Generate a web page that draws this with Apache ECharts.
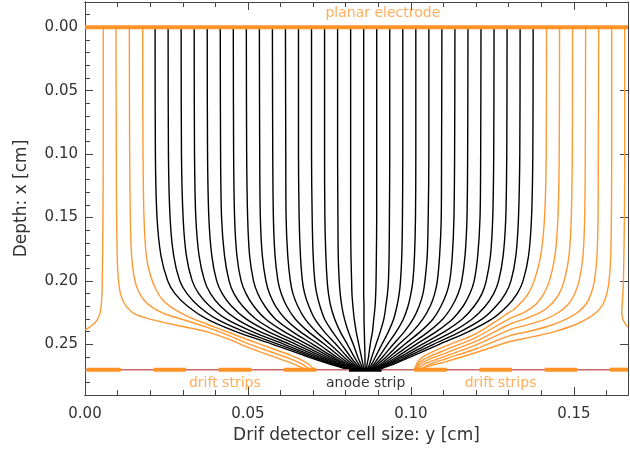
<!DOCTYPE html>
<html><head><meta charset="utf-8">
<script src="https://cdn.jsdelivr.net/npm/echarts@6/dist/echarts.min.js"></script>
<style>html,body{margin:0;padding:0;background:#fff}#c{width:630px;height:452px}</style>
</head><body><div id="c"></div>
<script>
// ---------- axes / ticks ----------
const xRange = [0, 0.1666];
const yRange = [-0.02, 0.29];
const xMajorTicks = [0, 0.05, 0.10, 0.15];
const xMinorTicks = [0.01,0.02,0.03,0.04,0.06,0.07,0.08,0.09,0.11,0.12,0.13,0.14,0.16];
const yMajorTicks = [0, 0.05, 0.10, 0.15, 0.20, 0.25];
const yMinorTicks = [-0.01,0.01,0.02,0.03,0.04,0.06,0.07,0.08,0.09,0.11,0.12,0.13,0.14,0.16,0.17,0.18,0.19,0.21,0.22,0.23,0.24,0.26,0.27,0.28];
const xTitle = 'Drif detector cell size: y [cm]';
const yTitle = 'Depth: x [cm]';

// ---------- electrodes ----------
const electrodeDepth = 0;
const stripDepth = 0.27;
const driftStrips = [[0.0005,0.011],[0.021,0.031],[0.041,0.051],[0.061,0.071],[0.101,0.111],[0.121,0.131],[0.141,0.151],[0.161,0.1666]];
const anodeStrip = [0.081, 0.091];

// ---------- annotations ----------
const labelTexts = ['planar electrode', 'drift strips', 'anode strip', 'drift strips'];
const labelAnchors = [[0.0914,-0.0108],[0.0429,0.2807],[0.0861,0.2807],[0.1275,0.2807]];
const labelKinds = ['orange','orange','black','orange'];

// ---------- field lines ending on the anode (x at each depth) ----------
const anodeLineDepths = [0, 0.10, 0.15, 0.18, 0.20, 0.21, 0.22, 0.23, 0.24, 0.25, 0.26, 0.265, 0.27];
const anodeLinesX = [
 [0.0215,0.0216,0.0221,0.0233,0.0254,0.0276,0.0315,0.0373,0.0463,0.0576,0.0686,0.0744,0.0808],
 [0.0255,0.0256,0.0261,0.0272,0.0291,0.0313,0.0349,0.0403,0.0488,0.0594,0.0697,0.0751,0.0812],
 [0.0295,0.0296,0.0301,0.0311,0.0329,0.0349,0.0383,0.0433,0.0513,0.0611,0.0707,0.0758,0.0815],
 [0.0335,0.0336,0.0340,0.0350,0.0367,0.0385,0.0416,0.0464,0.0537,0.0629,0.0718,0.0766,0.0818],
 [0.0375,0.0376,0.0380,0.0389,0.0404,0.0421,0.0450,0.0494,0.0562,0.0647,0.0729,0.0773,0.0821],
 [0.0415,0.0416,0.0419,0.0428,0.0442,0.0457,0.0484,0.0524,0.0586,0.0664,0.0740,0.0780,0.0824],
 [0.0455,0.0456,0.0459,0.0466,0.0479,0.0494,0.0518,0.0554,0.0611,0.0682,0.0751,0.0787,0.0828],
 [0.0495,0.0496,0.0499,0.0505,0.0517,0.0530,0.0552,0.0584,0.0636,0.0699,0.0761,0.0794,0.0831],
 [0.0535,0.0536,0.0538,0.0544,0.0555,0.0566,0.0585,0.0615,0.0660,0.0717,0.0772,0.0802,0.0834],
 [0.0575,0.0576,0.0578,0.0583,0.0592,0.0602,0.0619,0.0645,0.0685,0.0735,0.0783,0.0809,0.0837],
 [0.0615,0.0616,0.0617,0.0622,0.0630,0.0638,0.0653,0.0675,0.0709,0.0752,0.0794,0.0816,0.0840],
 [0.0655,0.0655,0.0657,0.0661,0.0667,0.0674,0.0687,0.0705,0.0734,0.0770,0.0805,0.0823,0.0844],
 [0.0695,0.0695,0.0697,0.0700,0.0705,0.0711,0.0721,0.0735,0.0759,0.0787,0.0815,0.0830,0.0847],
 [0.0735,0.0735,0.0736,0.0739,0.0743,0.0747,0.0754,0.0766,0.0783,0.0805,0.0826,0.0838,0.0850],
 [0.0775,0.0775,0.0776,0.0777,0.0780,0.0783,0.0788,0.0796,0.0808,0.0823,0.0837,0.0845,0.0853],
 [0.0815,0.0815,0.0815,0.0816,0.0818,0.0819,0.0822,0.0826,0.0832,0.0840,0.0848,0.0852,0.0856],
 [0.0855,0.0855,0.0855,0.0855,0.0855,0.0855,0.0856,0.0856,0.0857,0.0858,0.0859,0.0859,0.0860],
 [0.0895,0.0895,0.0895,0.0894,0.0893,0.0892,0.0890,0.0886,0.0882,0.0875,0.0870,0.0866,0.0863],
 [0.0935,0.0935,0.0934,0.0933,0.0931,0.0928,0.0923,0.0917,0.0906,0.0893,0.0880,0.0874,0.0866],
 [0.0975,0.0975,0.0974,0.0972,0.0968,0.0964,0.0957,0.0947,0.0931,0.0911,0.0891,0.0881,0.0869],
 [0.1015,0.1015,0.1014,0.1011,0.1006,0.1000,0.0991,0.0977,0.0955,0.0928,0.0902,0.0888,0.0872],
 [0.1055,0.1055,0.1053,0.1050,0.1043,0.1037,0.1025,0.1007,0.0980,0.0946,0.0913,0.0895,0.0876],
 [0.1095,0.1094,0.1093,0.1088,0.1081,0.1073,0.1059,0.1037,0.1005,0.0963,0.0924,0.0902,0.0879],
 [0.1135,0.1134,0.1132,0.1127,0.1119,0.1109,0.1092,0.1068,0.1029,0.0981,0.0934,0.0910,0.0882],
 [0.1175,0.1174,0.1172,0.1166,0.1156,0.1145,0.1126,0.1098,0.1054,0.0999,0.0945,0.0917,0.0885],
 [0.1215,0.1214,0.1212,0.1205,0.1194,0.1181,0.1160,0.1128,0.1078,0.1016,0.0956,0.0924,0.0888],
 [0.1255,0.1254,0.1251,0.1244,0.1231,0.1218,0.1194,0.1158,0.1103,0.1034,0.0967,0.0931,0.0892],
 [0.1295,0.1294,0.1291,0.1283,0.1269,0.1254,0.1228,0.1188,0.1128,0.1051,0.0978,0.0938,0.0895],
 [0.1335,0.1334,0.1330,0.1322,0.1307,0.1290,0.1261,0.1219,0.1152,0.1069,0.0988,0.0946,0.0898],
 [0.1375,0.1374,0.1370,0.1361,0.1344,0.1326,0.1295,0.1249,0.1177,0.1087,0.0999,0.0953,0.0901]
];

// ---------- field lines ending on the drift strips / cell edges ([y, x] points) ----------
const leftEdgeLine = [[0.0056,0],[0.0056,0.10],[0.0055,0.15],[0.0053,0.20],[0.0051,0.215],[0.0047,0.2245],[0.0038,0.2305],[0.0022,0.2350],[0.0008,0.2375],[0,0.2387]];
const leftStripLines = [
 [[0.0095,0],[0.0096,0.10],[0.0097,0.15],[0.0100,0.19],[0.0105,0.205],[0.0113,0.2135],[0.0128,0.2205],[0.0155,0.2265],[0.0205,0.2305],[0.0300,0.2360],[0.0373,0.2400],[0.0440,0.2460],[0.0506,0.2530],[0.0576,0.2595],[0.0630,0.2645],[0.0662,0.2680],[0.0680,0.27]],
 [[0.0136,0],[0.0137,0.10],[0.0139,0.15],[0.0143,0.18],[0.0150,0.196],[0.0162,0.207],[0.0182,0.2155],[0.0210,0.2215],[0.0250,0.2265],[0.0320,0.2320],[0.0373,0.2365],[0.0440,0.2430],[0.0506,0.2500],[0.0576,0.2565],[0.0630,0.2615],[0.0665,0.2655],[0.0685,0.2690],[0.0692,0.27]],
 [[0.0177,0],[0.0178,0.10],[0.0181,0.15],[0.0188,0.18],[0.0200,0.195],[0.0218,0.207],[0.0240,0.2155],[0.0275,0.2225],[0.0320,0.2285],[0.0373,0.2340],[0.0440,0.2405],[0.0506,0.2470],[0.0576,0.2535],[0.0630,0.2585],[0.0665,0.2625],[0.0690,0.2665],[0.0702,0.27]]
];
const rightStripLines = [
 [[0.1416,0],[0.1415,0.10],[0.1410,0.15],[0.1398,0.18],[0.1378,0.20],[0.1360,0.21],[0.1340,0.2165],[0.1316,0.2225],[0.1304,0.2245],[0.1200,0.2415],[0.1110,0.2510],[0.1050,0.2580],[0.1025,0.2625],[0.1010,0.27]],
 [[0.1456,0],[0.1455,0.10],[0.1451,0.15],[0.1442,0.18],[0.1425,0.20],[0.1408,0.21],[0.1385,0.218],[0.1350,0.2245],[0.1304,0.2295],[0.1200,0.2445],[0.1110,0.2540],[0.1050,0.2605],[0.1025,0.2645],[0.1014,0.27]],
 [[0.1496,0],[0.1495,0.10],[0.1492,0.15],[0.1485,0.18],[0.1470,0.20],[0.1455,0.21],[0.1432,0.218],[0.1400,0.2245],[0.1355,0.2295],[0.1304,0.2340],[0.1200,0.2475],[0.1110,0.2565],[0.1050,0.2625],[0.1027,0.2660],[0.1017,0.27]],
 [[0.1536,0],[0.1535,0.10],[0.1533,0.15],[0.1528,0.18],[0.1516,0.20],[0.1503,0.21],[0.1484,0.218],[0.1455,0.2245],[0.1415,0.2300],[0.1360,0.2345],[0.1304,0.2385],[0.1200,0.2505],[0.1110,0.2590],[0.1050,0.2645],[0.1030,0.2675],[0.1020,0.27]],
 [[0.1576,0],[0.1575,0.10],[0.1574,0.15],[0.1571,0.18],[0.1563,0.20],[0.1553,0.21],[0.1538,0.218],[0.1513,0.2245],[0.1478,0.2300],[0.1430,0.2350],[0.1368,0.2395],[0.1304,0.2432],[0.1200,0.2535],[0.1110,0.2612],[0.1055,0.2660],[0.1035,0.2690],[0.1023,0.27]],
 [[0.1616,0],[0.1616,0.10],[0.1615,0.15],[0.1613,0.18],[0.1608,0.20],[0.1601,0.21],[0.1590,0.218],[0.1570,0.2245],[0.1540,0.2300],[0.1500,0.2350],[0.1440,0.2400],[0.1375,0.2440],[0.1304,0.2478],[0.1200,0.2565],[0.1110,0.2635],[0.1055,0.2672],[0.1035,0.2690],[0.1026,0.27]]
];
const rightEdgeLine = [[0.1656,0],[0.1656,0.10],[0.1655,0.15],[0.1652,0.20],[0.1649,0.215],[0.1647,0.225],[0.1650,0.230],[0.1657,0.2335],[0.1663,0.2355],[0.1666,0.2365]];

// ---------- styling ----------
const ORANGE = '#ff9933';
const ELECTRODE = '#ff9326';
const BASELINE = '#c46a6a';
const AXIS = '#444444';
const FONT = 'DejaVu Sans';

const series = [];
function fieldSeries(data, color) {
  return {type:'line', data:data, showSymbol:false, symbol:'none', smooth:0.3, silent:true,
          lineStyle:{color:color, width:1.4}, z:2, animation:false};
}
series.push(fieldSeries(leftEdgeLine, ORANGE));
leftStripLines.forEach(l => series.push(fieldSeries(l, ORANGE)));
anodeLinesX.forEach(xs => series.push(fieldSeries(xs.map((x,j)=>[x, anodeLineDepths[j]]), '#000000')));
rightStripLines.forEach(l => series.push(fieldSeries(l, ORANGE)));
series.push(fieldSeries(rightEdgeLine, ORANGE));

function segSeries(x0, x1, d, color, width, z) {
  return {type:'line', data:[[x0,d],[x1,d]], showSymbol:false, symbol:'none', silent:true,
          lineStyle:{color:color, width:width, cap:'butt'}, z:z, animation:false};
}
series.push(segSeries(xRange[0], xRange[1], electrodeDepth, ELECTRODE, 4, 5));
series.push(segSeries(xRange[0], xRange[1], stripDepth, BASELINE, 1.5, 4));
driftStrips.forEach(s => series.push(segSeries(s[0], s[1], stripDepth, ELECTRODE, 4, 5)));
series.push(segSeries(anodeStrip[0], anodeStrip[1], stripDepth, '#000000', 4, 5));

labelTexts.forEach((t,i) => {
  series.push({type:'scatter', data:[labelAnchors[i]], symbolSize:1, itemStyle:{color:'rgba(0,0,0,0)'}, silent:true, z:6,
    label:{show:true, position:'inside', formatter:t, color: labelKinds[i]==='orange' ? ORANGE : '#000000',
           fontSize:14, fontFamily:FONT}, animation:false});
});

function axisBase(dim, pos, range, ticks, len, labels, extra) {
  const a = Object.assign({type:'value', position:pos, min:range[0], max:range[1], gridIndex:0,
    axisLine:{show:true, onZero:false, lineStyle:{color:AXIS, width:1}},
    axisTick:{show:true, inside:true, length:len, customValues:ticks, lineStyle:{color:AXIS, width:1}},
    axisLabel:labels ? {show:true, customValues:ticks, formatter:v=>Number(v).toFixed(2), color:'#333', fontSize:15, fontFamily:FONT, margin: dim==='x'?12:7}
                     : {show:false},
    splitLine:{show:false}}, extra||{});
  if (dim==='y') a.inverse = true;
  return a;
}

const option = {
  animation:false,
  backgroundColor:'#ffffff',
  grid:{left:85, right:2, top:2, bottom:57, containLabel:false},
  xAxis:[
    axisBase('x','bottom',xRange,xMajorTicks,8,true,{name:xTitle, nameLocation:'middle', nameGap:31, nameTextStyle:{color:'#333', fontSize:17, fontFamily:FONT}}),
    axisBase('x','bottom',xRange,xMinorTicks,5,false),
    axisBase('x','top',xRange,xMajorTicks,8,false),
    axisBase('x','top',xRange,xMinorTicks,5,false)
  ],
  yAxis:[
    axisBase('y','left',yRange,yMajorTicks,8,true,{name:yTitle, nameLocation:'middle', nameGap:55, nameTextStyle:{color:'#333', fontSize:17, fontFamily:FONT}}),
    axisBase('y','left',yRange,yMinorTicks,5,false),
    axisBase('y','right',yRange,yMajorTicks,8,false)
  ],
  series:series
};
const chart = echarts.init(document.getElementById('c'));
chart.setOption(option);
</script></body></html>
